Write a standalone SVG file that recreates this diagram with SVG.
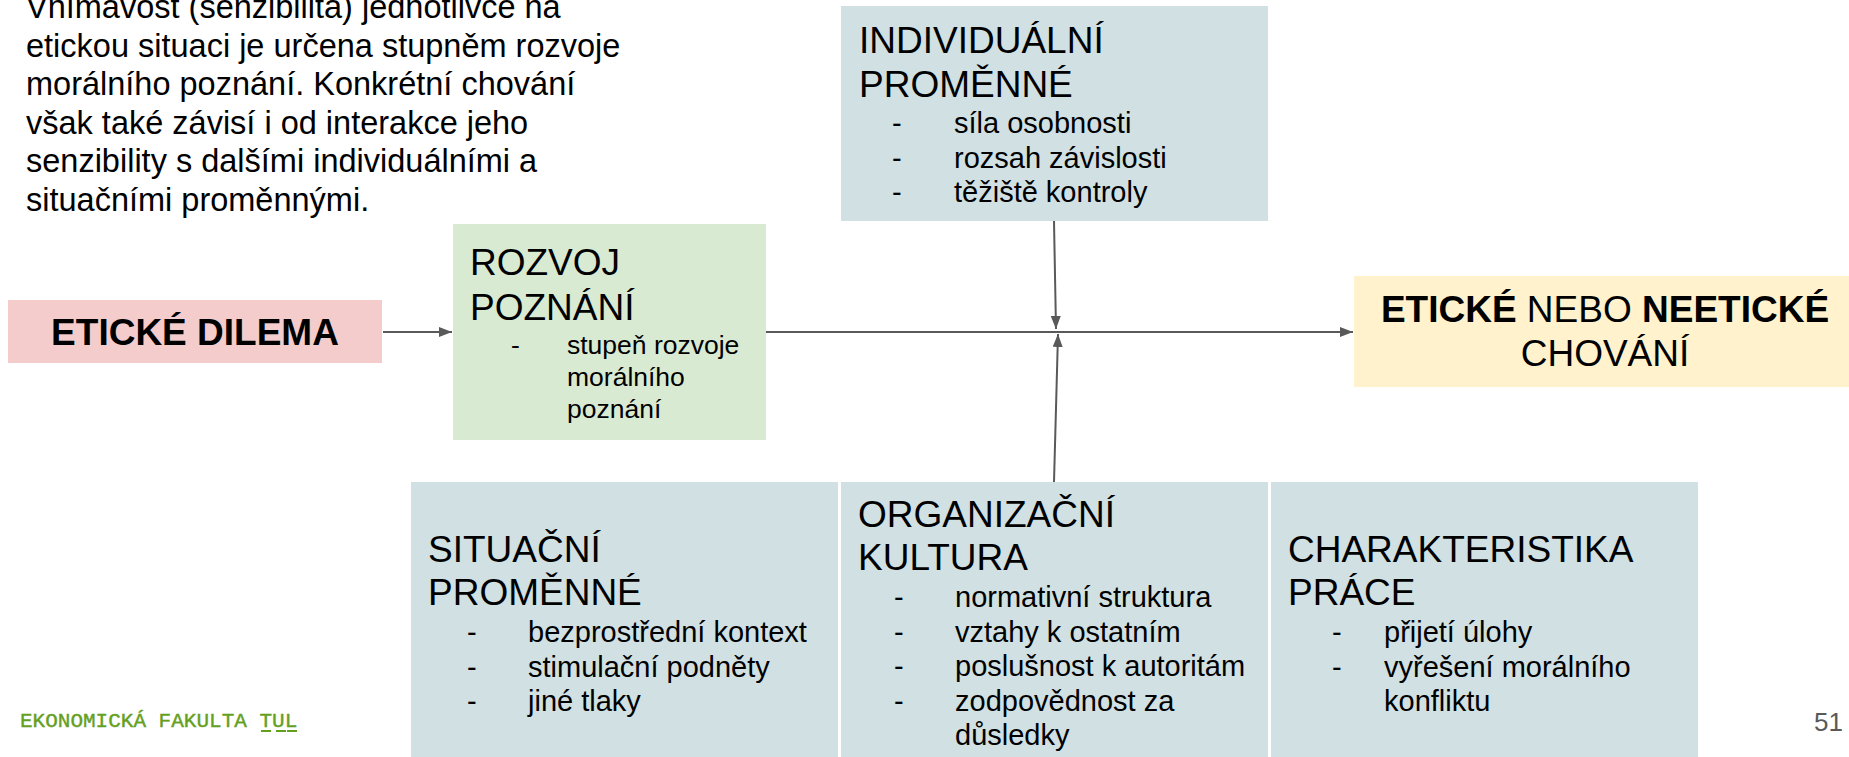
<svg xmlns="http://www.w3.org/2000/svg" width="1849" height="757" viewBox="0 0 1849 757">
  <style>
    text { font-family: "Liberation Sans", Arial, sans-serif; fill: #000; }
    .para { font-size: 32.5px; }
    .head { font-size: 37px; }
    .item { font-size: 29px; }
    .item2 { font-size: 26.5px; }
    .bold { font-weight: bold; }
    .conn { stroke: #595959; stroke-width: 2; fill: none; }
    .foot { font-family: "Liberation Mono", "DejaVu Sans Mono", monospace; font-size: 21px; fill: #64a01e; stroke: #64a01e; stroke-width: 0.4; }
    .pg { font-size: 26px; fill: #595959; }
  </style>
  <defs>
    <marker id="ah" viewBox="0 0 13 10" refX="13" refY="5" markerWidth="13" markerHeight="10" markerUnits="userSpaceOnUse" orient="auto">
      <path d="M0,0 L13,5 L0,10 z" fill="#595959"/>
    </marker>
  </defs>
  <rect width="1849" height="757" fill="#ffffff"/>

  <g id="intro">
    <text class="para" x="26" y="18">Vnímavost (senzibilita) jednotlivce na</text>
    <text class="para" x="26" y="56.5">etickou situaci je určena stupněm rozvoje</text>
    <text class="para" x="26" y="95">morálního poznání. Konkrétní chování</text>
    <text class="para" x="26" y="133.5">však také závisí i od interakce jeho</text>
    <text class="para" x="26" y="172">senzibility s dalšími individuálními a</text>
    <text class="para" x="26" y="210.5">situačními proměnnými.</text>
  </g>

  <g id="connectors">
    <line class="conn" x1="383" y1="332" x2="452" y2="332" marker-end="url(#ah)"/>
    <line class="conn" x1="766" y1="332" x2="1353" y2="332" marker-end="url(#ah)"/>
    <line class="conn" x1="1054" y1="221" x2="1056" y2="329" marker-end="url(#ah)"/>
    <line class="conn" x1="1054" y1="482" x2="1058" y2="334" marker-end="url(#ah)"/>
  </g>

  <g id="eticke-dilema">
    <rect x="8" y="300" width="374" height="63" fill="#f4cccc"/>
    <text class="head bold" x="195" y="345" text-anchor="middle">ETICKÉ DILEMA</text>
  </g>

  <g id="rozvoj-poznani">
    <rect x="453" y="224" width="313" height="216" fill="#d9ead3"/>
    <text class="head" x="470" y="275">ROZVOJ</text>
    <text class="head" x="470" y="320">POZNÁNÍ</text>
    <text class="item2" x="511" y="354">-</text>
    <text class="item2" x="567" y="354">stupeň rozvoje</text>
    <text class="item2" x="567" y="386">morálního</text>
    <text class="item2" x="567" y="418">poznání</text>
  </g>

  <g id="individualni-promenne">
    <rect x="841" y="6" width="427" height="215" fill="#d0e0e3"/>
    <text class="head" x="859" y="53">INDIVIDUÁLNÍ</text>
    <text class="head" x="859" y="97">PROMĚNNÉ</text>
    <text class="item" x="892" y="133">-</text>
    <text class="item" x="954" y="133">síla osobnosti</text>
    <text class="item" x="892" y="167.5">-</text>
    <text class="item" x="954" y="167.5">rozsah závislosti</text>
    <text class="item" x="892" y="202">-</text>
    <text class="item" x="954" y="202">těžiště kontroly</text>
  </g>

  <g id="eticke-neeticke-chovani">
    <rect x="1354" y="276" width="495" height="111" fill="#fff2cc"/>
    <text class="head" x="1605" y="322" text-anchor="middle"><tspan class="bold">ETICKÉ</tspan> NEBO <tspan class="bold">NEETICKÉ</tspan></text>
    <text class="head" x="1605" y="366" text-anchor="middle">CHOVÁNÍ</text>
  </g>

  <g id="situacni-promenne">
    <rect x="411" y="482" width="427" height="275" fill="#d0e0e3"/>
    <text class="head" x="428" y="562">SITUAČNÍ</text>
    <text class="head" x="428" y="605">PROMĚNNÉ</text>
    <text class="item" x="467" y="642">-</text>
    <text class="item" x="528" y="642">bezprostřední kontext</text>
    <text class="item" x="467" y="676.5">-</text>
    <text class="item" x="528" y="676.5">stimulační podněty</text>
    <text class="item" x="467" y="711">-</text>
    <text class="item" x="528" y="711">jiné tlaky</text>
  </g>

  <g id="organizacni-kultura">
    <rect x="841" y="482" width="427" height="275" fill="#d0e0e3"/>
    <text class="head" x="858" y="527">ORGANIZAČNÍ</text>
    <text class="head" x="858" y="570">KULTURA</text>
    <text class="item" x="894" y="607">-</text>
    <text class="item" x="955" y="607">normativní struktura</text>
    <text class="item" x="894" y="641.5">-</text>
    <text class="item" x="955" y="641.5">vztahy k ostatním</text>
    <text class="item" x="894" y="676">-</text>
    <text class="item" x="955" y="676">poslušnost k autoritám</text>
    <text class="item" x="894" y="710.5">-</text>
    <text class="item" x="955" y="710.5">zodpovědnost za</text>
    <text class="item" x="955" y="745">důsledky</text>
  </g>

  <g id="charakteristika-prace">
    <rect x="1271" y="482" width="427" height="275" fill="#d0e0e3"/>
    <text class="head" x="1288" y="562">CHARAKTERISTIKA</text>
    <text class="head" x="1288" y="605">PRÁCE</text>
    <text class="item" x="1332" y="642">-</text>
    <text class="item" x="1384" y="642">přijetí úlohy</text>
    <text class="item" x="1332" y="676.5">-</text>
    <text class="item" x="1384" y="676.5">vyřešení morálního</text>
    <text class="item" x="1384" y="711">konfliktu</text>
  </g>

  <g id="footer">
    <text class="foot" x="20" y="727">EKONOMICKÁ FAKULTA TUL</text>
    <rect x="261" y="730" width="10" height="2" fill="#64a01e"/>
    <rect x="276" y="730" width="10" height="2" fill="#64a01e"/>
    <rect x="287" y="730" width="10" height="2" fill="#64a01e"/>
  </g>

  <g id="page-number">
    <text class="pg" x="1843" y="731" text-anchor="end">51</text>
  </g>
</svg>
